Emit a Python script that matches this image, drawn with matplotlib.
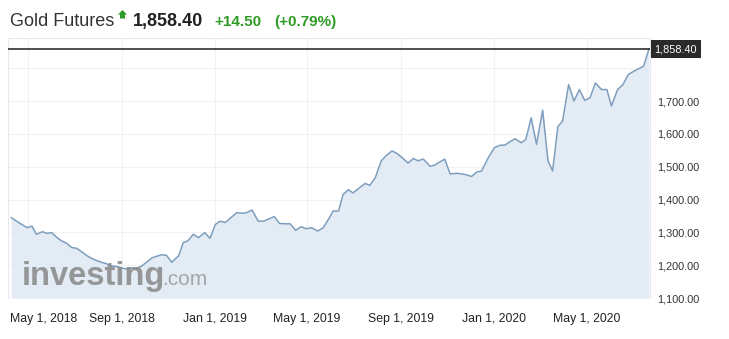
import matplotlib
matplotlib.use("Agg")
import matplotlib.pyplot as plt
import matplotlib.dates as mdates
import matplotlib.transforms as mtransforms
from matplotlib.patches import Polygon
import pandas as pd
from datetime import datetime

plt.rcParams['font.family'] = ['Liberation Sans', 'DejaVu Sans']

# weekly gold futures closes
dates = [
    "2018-04-09", "2018-04-16", "2018-04-23", "2018-04-30", "2018-05-06", "2018-05-12",
    "2018-05-20", "2018-05-25", "2018-06-01", "2018-06-08", "2018-06-14", "2018-06-21",
    "2018-06-27", "2018-07-04", "2018-07-10", "2018-07-17", "2018-07-23", "2018-07-30",
    "2018-08-05", "2018-08-12", "2018-08-18", "2018-08-25", "2018-08-31", "2018-09-07",
    "2018-09-14", "2018-09-20", "2018-09-27", "2018-10-03", "2018-10-10", "2018-10-16",
    "2018-10-23", "2018-10-29", "2018-11-05", "2018-11-14", "2018-11-20", "2018-11-26",
    "2018-12-03", "2018-12-10", "2018-12-18", "2018-12-25", "2019-01-01", "2019-01-07",
    "2019-01-14", "2019-01-20", "2019-01-29", "2019-02-05", "2019-02-11", "2019-02-18",
    "2019-02-26", "2019-03-05", "2019-03-11", "2019-03-19", "2019-03-26", "2019-04-02",
    "2019-04-09", "2019-04-16", "2019-04-23", "2019-04-30", "2019-05-07", "2019-05-15",
    "2019-05-22", "2019-05-29", "2019-06-04", "2019-06-11", "2019-06-17", "2019-06-24",
    "2019-06-30", "2019-07-08", "2019-07-16", "2019-07-22", "2019-07-29", "2019-08-06",
    "2019-08-12", "2019-08-20", "2019-08-26", "2019-09-02", "2019-09-10", "2019-09-17",
    "2019-09-23", "2019-09-30", "2019-10-09", "2019-10-15", "2019-10-22", "2019-10-28",
    "2019-11-04", "2019-11-13", "2019-11-19", "2019-11-26", "2019-12-02", "2019-12-09",
    "2019-12-15", "2019-12-24", "2020-01-01", "2020-01-08", "2020-01-15", "2020-01-21",
    "2020-01-28", "2020-02-05", "2020-02-11", "2020-02-18", "2020-02-25", "2020-03-04",
    "2020-03-11", "2020-03-17", "2020-03-24", "2020-03-30", "2020-04-07", "2020-04-14",
    "2020-04-21", "2020-04-28", "2020-05-05", "2020-05-12", "2020-05-20", "2020-05-27",
    "2020-06-02", "2020-06-10", "2020-06-17", "2020-06-24", "2020-07-03", "2020-07-14",
    "2020-07-21",
]
prices = [
    1345, 1334, 1324, 1314, 1319, 1294,
    1302, 1297, 1299, 1284, 1274, 1266,
    1254, 1251, 1241, 1229, 1221, 1214,
    1209, 1204, 1198, 1196, 1192, 1188,
    1192, 1190, 1198, 1209, 1222, 1227,
    1232, 1230, 1209, 1229, 1269, 1274,
    1294, 1284, 1299, 1282, 1324, 1334,
    1330, 1342, 1360, 1358, 1360, 1368,
    1334, 1334, 1340, 1348, 1327, 1326,
    1326, 1306, 1317, 1311, 1314, 1304,
    1314, 1340, 1365, 1365, 1415, 1430,
    1420, 1435, 1449, 1443, 1466, 1518,
    1533, 1548, 1541, 1528, 1511, 1525,
    1518, 1523, 1501, 1505, 1515, 1523,
    1478, 1480, 1478, 1475, 1470, 1484,
    1486, 1528, 1558, 1565, 1566, 1576,
    1585, 1573, 1583, 1649, 1568, 1672,
    1518, 1487, 1623, 1638, 1750, 1700,
    1735, 1702, 1710, 1755, 1735, 1735,
    1685, 1735, 1750, 1781, 1793, 1806,
    1858.40,
]
change = "+14.50"
change_pct = "(+0.79%)"

tick_dates = ["2018-05-01", "2018-09-01", "2019-01-01", "2019-05-01",
              "2019-09-01", "2020-01-01", "2020-05-01"]
y_ticks = [1100, 1200, 1300, 1400, 1500, 1600, 1700, 1800]

x = pd.to_datetime(dates)
last = prices[-1]

W, H = 729, 339
fig = plt.figure(figsize=(W / 100, H / 100), dpi=100)
fig.patch.set_facecolor("white")
ax = fig.add_axes([8 / W, 1 - 298 / H, 642 / W, 260 / H])

line_c = "#7e9ebd"
fill_c = "#e3ebf4"
ax.fill_between(x, prices, 1100, color=fill_c, lw=0, zorder=1)
ax.plot(x, prices, color=line_c, lw=1.1, zorder=2)
ax.axhline(last, color="#1e1e1e", lw=1.1, zorder=3)

base = mdates.date2num(datetime(2018, 5, 1))
ax.set_xlim(base - 26.2, base + 813.4)
ax.set_ylim(1100, 1892)

ax.set_xticks(pd.to_datetime(tick_dates))
ax.xaxis.set_major_formatter(mdates.DateFormatter("%b %-d, %Y"))
ax.yaxis.tick_right()
ax.set_yticks(y_ticks, [f"{v:,.2f}" if v < 1800 else "" for v in y_ticks])
ax.tick_params(axis="x", length=0, pad=10.5, labelsize=8.8, labelcolor="#222222")
ax.tick_params(axis="y", length=0, pad=5.5, labelsize=7.8, labelcolor="#333333")
ax.grid(True, color="#f1f1f1", lw=0.8, zorder=0)
ax.set_axisbelow(True)
ax.spines["bottom"].set_visible(False)
for side in ["left", "right", "top"]:
    ax.spines[side].set_color("#e9e9e9")
    ax.spines[side].set_linewidth(0.8)

# first date label is pushed inside the frame
first = ax.xaxis.get_major_ticks()[0].label1
first.set_horizontalalignment("left")
first.set_transform(first.get_transform() +
                    mtransforms.ScaledTranslation(-18 / 100, 0, fig.dpi_scale_trans))

# last price tag
ax.annotate(f"{last:,.2f}", xy=(1, last), xycoords=("axes fraction", "data"),
            xytext=(3.2, 0), textcoords="offset points", ha="left", va="center",
            fontsize=7.8, color="white", annotation_clip=False,
            bbox=dict(boxstyle="square,pad=0.35", fc="#2a2a2a", ec="none"))

# watermark
fig.text(22 / W, 1 - 285 / H, "investing", fontsize=23.5, fontweight="bold",
         color="#878787", alpha=0.85, va="baseline", ha="left")
fig.text(162 / W, 1 - 285 / H, ".com", fontsize=15, color="#9a9a9a",
         alpha=0.85, va="baseline", ha="left")

# header
green = "#2f9a25"
base_y = 1 - 26 / H
fig.text(10 / W, base_y, "Gold Futures", fontsize=13, color="#333333", va="baseline")
arrow = [(122.5, 10), (127, 14.5), (125, 14.5), (125, 18.5), (120, 18.5),
         (120, 14.5), (118, 14.5)]
fig.add_artist(Polygon([(px / W, 1 - py / H) for px, py in arrow], closed=True,
                       transform=fig.transFigure, fc=green, ec="none"))
fig.text(133 / W, base_y, f"{last:,.2f}", fontsize=13, fontweight="bold",
         color="#222222", va="baseline")
fig.text(214 / W, base_y, change, fontsize=11, fontweight="bold", color=green, va="baseline")
fig.text(274 / W, base_y, change_pct, fontsize=11, fontweight="bold", color=green,
         va="baseline")

fig.savefig("out.png", dpi=100)
